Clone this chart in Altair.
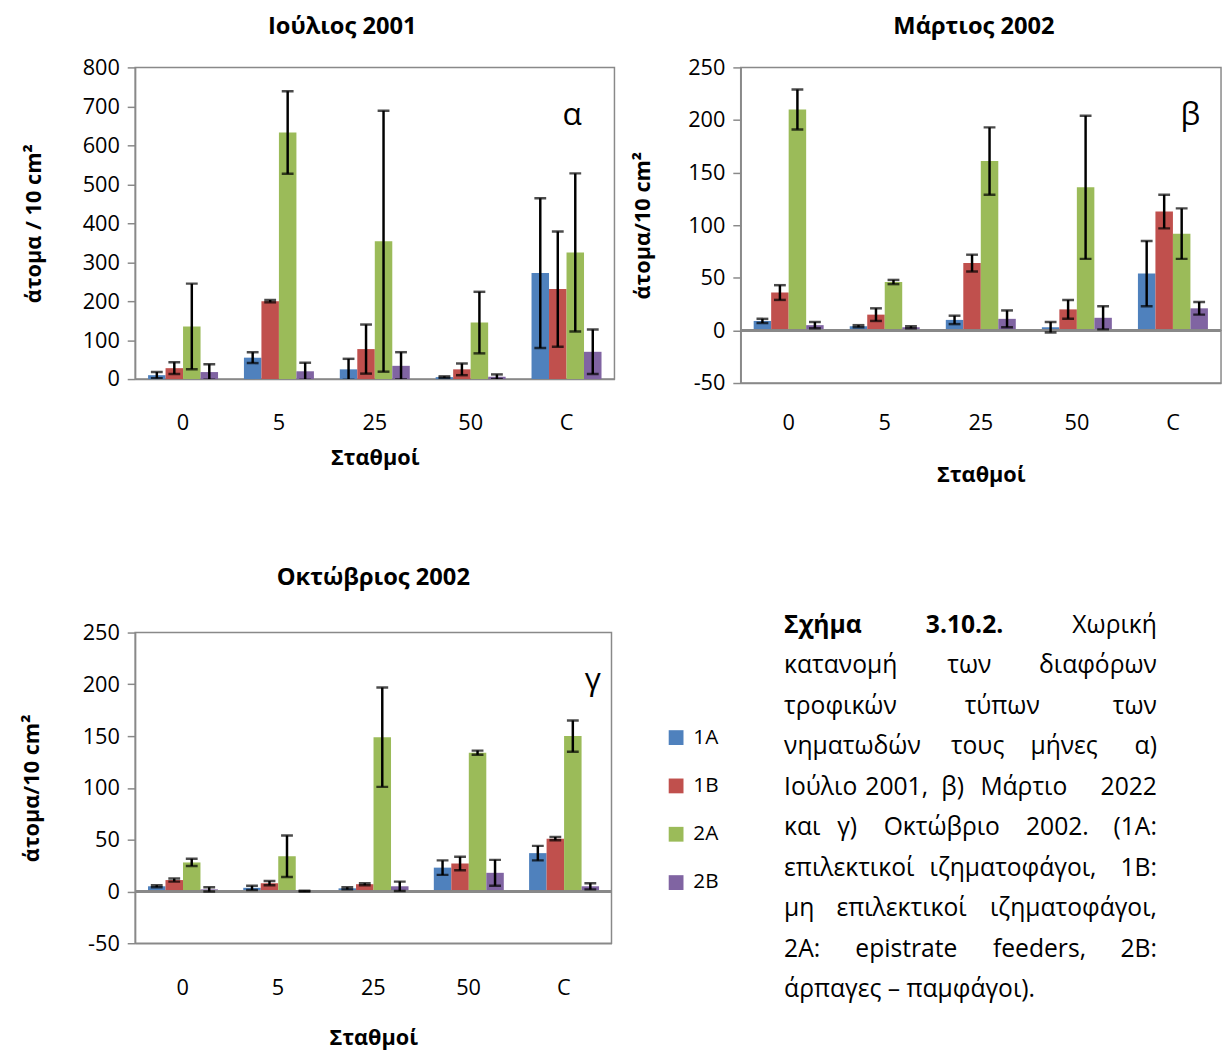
import altair as alt
import pandas as pd

FONT = "Open Sans"
GRAY = "#898989"

stations = ["0", "5", "25", "50", "C"]
groups = ["1A", "1B", "2A", "2B"]
group_colors = ["#4F81BD", "#C0504D", "#9BBB59", "#8064A2"]

# Ιούλιος 2001 (α): mean and standard deviation per trophic group, stations 0, 5, 25, 50, C
jul_mean = {"1A": [10, 55, 25, 5, 272], "1B": [28, 200, 77, 25, 231],
            "2A": [135, 633, 354, 145, 325], "2B": [18, 20, 34, 6, 70]}
jul_sd = {"1A": [8, 14, 27, 2, 192], "1B": [15, 3, 63, 15, 148],
          "2A": [110, 106, 335, 79, 203], "2B": [20, 22, 35, 6, 57]}

# Μάρτιος 2002 (β)
mar_mean = {"1A": [9, 4, 10, 3, 54], "1B": [36, 15, 64, 20, 113],
            "2A": [210, 46, 161, 136, 92], "2B": [5, 3, 11, 12, 21]}
mar_sd = {"1A": [2, 1, 4, 5, 31], "1B": [7, 6, 8, 9, 16],
          "2A": [19, 2, 32, 68, 24], "2B": [3, 1, 8, 11, 6]}

# Οκτώβριος 2002 (γ)
oct_mean = {"1A": [5, 3.5, 3, 23, 37], "1B": [11, 8, 7, 27, 51],
            "2A": [28, 34, 149, 134, 150], "2B": [2, 0.3, 5, 18, 5]}
oct_sd = {"1A": [1, 2, 1, 7, 7], "1B": [1.5, 2, 1, 6.5, 1.5],
          "2A": [3.5, 20, 48, 2, 15], "2B": [2, 0.3, 4.5, 12.5, 3]}

# Caption: (line, relative position, word, alignment, bold)
caption_words = [
    (0, 0.0, "Σχήμα", "left", True), (0, 0.484, "3.10.2.", "center", True), (0, 1.0, "Χωρική", "right", False),
    (1, 0.0, "κατανομή", "left", False), (1, 0.497, "των", "center", False), (1, 1.0, "διαφόρων", "right", False),
    (2, 0.0, "τροφικών", "left", False), (2, 0.585, "τύπων", "center", False), (2, 1.0, "των", "right", False),
    (3, 0.0, "νηματωδών", "left", False), (3, 0.519, "τους", "center", False), (3, 0.751, "μήνες", "center", False),
    (3, 1.0, "α)", "right", False),
    (4, 0.0, "Ιούλιο", "left", False), (4, 0.302, "2001,", "center", False), (4, 0.452, "β)", "center", False),
    (4, 0.643, "Μάρτιο", "center", False), (4, 1.0, "2022", "right", False),
    (5, 0.0, "και", "left", False), (5, 0.169, "γ)", "center", False), (5, 0.423, "Οκτώβριο", "center", False),
    (5, 0.733, "2002.", "center", False), (5, 1.0, "(1A:", "right", False),
    (6, 0.0, "επιλεκτικοί", "left", False), (6, 0.614, "ιζηματοφάγοι,", "center", False), (6, 1.0, "1B:", "right", False),
    (7, 0.0, "μη", "left", False), (7, 0.315, "επιλεκτικοί", "center", False), (7, 1.0, "ιζηματοφάγοι,", "right", False),
    (8, 0.0, "2A:", "left", False), (8, 0.328, "epistrate", "center", False), (8, 0.685, "feeders,", "center", False),
    (8, 1.0, "2B:", "right", False),
    (9, 0.0, "άρπαγες – παμφάγοι).", "left", False),
]


def to_frame(means, sds):
    rows = []
    for g in groups:
        for s, m, e in zip(stations, means[g], sds[g]):
            rows.append({"station": s, "group": g, "mean": m, "lo": m - e, "hi": m + e})
    return pd.DataFrame(rows)


def panel(df, ymin, ymax, step, ytitle, title, title_dx, title_offset, letter, letter_x,
          width, height, xlab_pad, xtitle_pad, ytitle_pad, legend=None):
    x = alt.X("station:N", sort=stations, title="Σταθμοί",
              scale=alt.Scale(paddingInner=0.27, paddingOuter=0.135),
              axis=alt.Axis(labelAngle=0, ticks=False, tickSize=0, labelPadding=xlab_pad,
                            titlePadding=xtitle_pad))
    xo = alt.XOffset("group:N", sort=groups, scale=alt.Scale(paddingInner=0, paddingOuter=0))
    yscale = alt.Scale(domain=[ymin, ymax], nice=False, zero=False)
    yaxis = alt.Axis(values=list(range(ymin, ymax + 1, step)), tickSize=8, labelPadding=8,
                     titlePadding=ytitle_pad, labelOverlap=False,
                     labelExpr="replace(datum.label, '−', '-')")

    def ych(field):
        return alt.Y(field, scale=yscale, axis=yaxis, title=ytitle)

    base = alt.Chart(df)
    bars = base.mark_bar().encode(
        x=x, xOffset=xo, y=ych("mean:Q"), y2=alt.datum(0),
        color=alt.Color("group:N", sort=groups,
                        scale=alt.Scale(domain=groups, range=group_colors), legend=legend),
    )
    layers = [bars]
    if ymin < 0:
        layers.append(base.mark_rule(color=GRAY, strokeWidth=1.5).encode(y=ych("z:Q")).transform_calculate(z="0"))
    whisker = base.mark_rule(color="black", strokeWidth=2.5, clip=True).encode(
        x=x, xOffset=xo, y=ych("lo:Q"), y2="hi:Q")
    cap_hi = base.mark_tick(color="black", thickness=2.5, size=12, clip=True).encode(
        x=x, xOffset=xo, y=ych("hi:Q"))
    cap_lo = base.mark_tick(color="black", thickness=2.5, size=12, clip=True).encode(
        x=x, xOffset=xo, y=ych("lo:Q"))
    tag = alt.Chart(pd.DataFrame({"t": [letter]})).mark_text(
        font=FONT, fontSize=32, align="center", baseline="middle", color="black"
    ).encode(x=alt.value(letter_x), y=alt.value(48), text="t:N")
    layers += [whisker, cap_hi, cap_lo, tag]
    return alt.layer(*layers).properties(
        width=width, height=height,
        title=alt.TitleParams(title, font=FONT, fontSize=24, fontWeight="bold", anchor="middle",
                              dx=title_dx, offset=title_offset, color="black"),
    )


def spacer(w):
    return alt.Chart(pd.DataFrame({"v": pd.Series([], dtype=float)})).mark_point().encode(
        x=alt.X("v:Q", axis=None), y=alt.Y("v:Q", axis=None)
    ).properties(width=w, height=1, view=alt.ViewConfig(stroke=None))


chart_a = panel(to_frame(jul_mean, jul_sd), 0, 800, 100, "άτομα / 10 cm²", "Ιούλιος 2001",
                -33, 18, "α", 443, 486, 316, 34, 15, 37)
chart_b = panel(to_frame(mar_mean, mar_sd), -50, 250, 50, "άτομα/10 cm²", "Μάρτιος 2002",
                -7, 18, "β", 456, 487, 320, 30, 32, 34)
chart_c = panel(to_frame(oct_mean, oct_sd), -50, 250, 50, "άτομα/10 cm²", "Οκτώβριος 2002",
                0, 32, "γ", 464, 483, 315, 35, 30, 39,
                legend=alt.Legend(orient="none", legendX=538, legendY=96, title=None,
                                  symbolType="square", symbolSize=225, symbolStrokeWidth=0,
                                  labelFont=FONT, labelFontSize=21, labelColor="black",
                                  rowPadding=27, labelOffset=7, padding=0))

cap_df = pd.DataFrame(caption_words, columns=["line", "pos", "word", "align", "bold"])
cap_x = alt.X("pos:Q", scale=alt.Scale(domain=[0, 1], range=[44, 422]), axis=None)
cap_y = alt.Y("line:Q", scale=alt.Scale(domain=[0, 9], range=[-8, 362]), axis=None)
cap_layers = []
for al in ["left", "center", "right"]:
    for b in [True, False]:
        sub = cap_df[(cap_df["align"] == al) & (cap_df["bold"] == b)]
        if len(sub) == 0:
            continue
        cap_layers.append(alt.Chart(sub).mark_text(
            font=FONT, fontSize=25, align=al, baseline="middle", color="black",
            fontWeight="bold" if b else "normal"
        ).encode(x=cap_x, y=cap_y, text="word:N"))
caption = alt.layer(*cap_layers).properties(width=430, height=330, view=alt.ViewConfig(stroke=None))

chart = alt.concat(
    spacer(1), chart_a, chart_b, spacer(11), chart_c, caption,
    columns=3, spacing={"row": 253, "column": 128}, bounds="flush",
    align={"row": "each", "column": "none"},
).resolve_legend(color="independent").properties(
    padding={"left": -2, "top": 7, "right": 0, "bottom": 0}, background="white"
).configure_view(stroke=GRAY, strokeWidth=1.5).configure_axis(
    grid=False, domainColor=GRAY, tickColor=GRAY, domainWidth=1.5, tickWidth=1.5,
    labelFont=FONT, titleFont=FONT, labelFontSize=22, titleFontSize=22, titleFontWeight="bold",
    labelColor="black", titleColor="black",
)

chart.save("out.html", embed_options={"renderer": "svg", "actions": False})
